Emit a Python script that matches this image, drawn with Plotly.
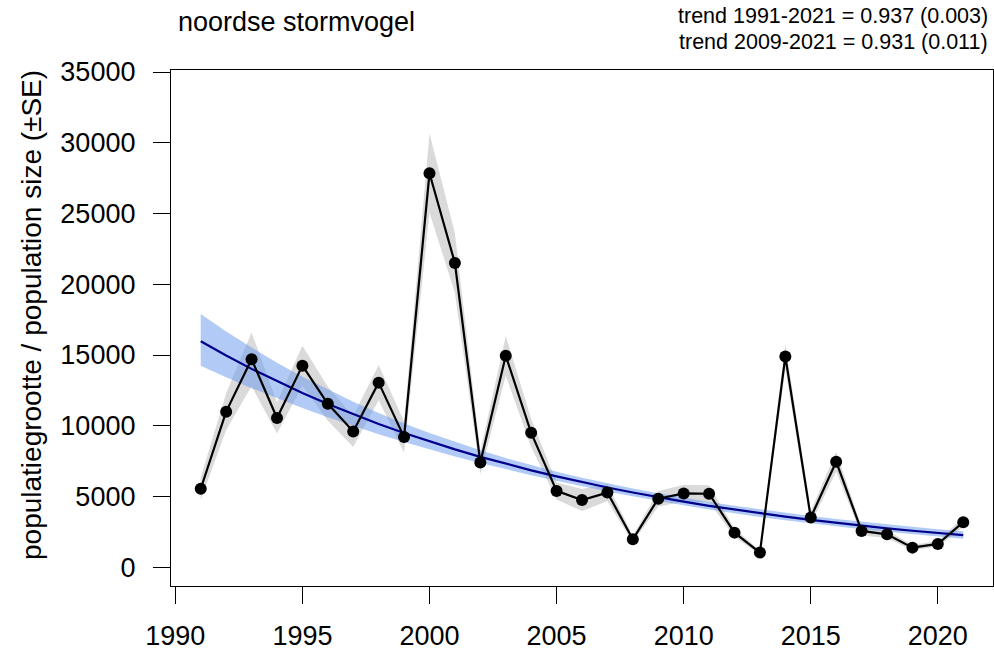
import plotly.graph_objects as go

# Breeding population of the northern fulmar, yearly index with standard error
years = list(range(1991, 2022))
population = [5550, 11000, 14700, 10550, 14250, 11550, 9600, 13050, 9200, 27850,
              21500, 7400, 14950, 9500, 5400, 4750, 5280, 1980, 4850, 5220,
              5200, 2450, 1040, 14900, 3520, 7460, 2570, 2330, 1390, 1650, 3190]
std_err = [800, 1300, 1900, 1100, 1400, 1200, 1100, 1250, 1100, 2800,
           2100, 800, 1400, 1000, 600, 780, 600, 250, 550, 590,
           590, 300, 150, 900, 450, 700, 300, 280, 180, 200, 350]

# Log-linear trend (0.937 per year) with its confidence band
trend_fit = [15970, 14964, 14021, 13138, 12310, 11535, 10808, 10127, 9489, 8891,
             8331, 7806, 7314, 6854, 6422, 6017, 5638, 5283, 4950, 4638,
             4346, 4072, 3816, 3575, 3350, 3139, 2941, 2756, 2582, 2420, 2267]
trend_hi = [17899, 16670, 15527, 14462, 13470, 12558, 11696, 10905, 10167, 9488,
            8855, 8264, 7720, 7220, 6751, 6326, 5927, 5565, 5225, 4910,
            4619, 4346, 4088, 3850, 3625, 3417, 3218, 3034, 2859, 2696, 2541]
trend_lo = [14250, 13432, 12661, 11936, 11250, 10595, 9987, 9405, 8856, 8332,
            7838, 7374, 6929, 6507, 6109, 5724, 5363, 5015, 4690, 4381,
            4089, 3816, 3561, 3320, 3095, 2883, 2688, 2504, 2332, 2172, 2023]

x_ticks = [1990, 1995, 2000, 2005, 2010, 2015, 2020]
y_ticks = [0, 5000, 10000, 15000, 20000, 25000, 30000, 35000]

title_text = "noordse stormvogel"
trend_lines = ["trend 1991-2021 = 0.937 (0.003)", "trend 2009-2021 = 0.931 (0.011)"]
y_label = "populatiegrootte / population size (±SE)"

FONT = "Liberation Sans, Arial, Helvetica, sans-serif"

se_hi = [p + s for p, s in zip(population, std_err)]
se_lo = [p - s for p, s in zip(population, std_err)]

fig = go.Figure()

# grey ±SE envelope around the yearly values
fig.add_trace(go.Scatter(
    x=years + years[::-1], y=se_hi + se_lo[::-1],
    fill="toself", fillcolor="rgb(218,218,218)",
    line=dict(width=0), mode="lines", hoverinfo="skip", showlegend=False))

# blue confidence band of the trend
fig.add_trace(go.Scatter(
    x=years + years[::-1], y=trend_hi + trend_lo[::-1],
    fill="toself", fillcolor="rgba(100,149,237,0.5)",
    line=dict(width=0), mode="lines", hoverinfo="skip", showlegend=False))

# trend line
fig.add_trace(go.Scatter(
    x=years, y=trend_fit, mode="lines",
    line=dict(color="#00008B", width=2.2), showlegend=False))

# yearly population values
fig.add_trace(go.Scatter(
    x=years, y=population, mode="lines+markers",
    line=dict(color="black", width=2.2),
    marker=dict(color="black", size=12),
    showlegend=False))

W, H = 994, 652
L, R, T, B = 171, 1, 70, 66
plot_w = W - L - R
plot_h = H - T - B

fig.update_layout(
    width=W, height=H,
    margin=dict(l=L, r=R, t=T, b=B),
    paper_bgcolor="white", plot_bgcolor="white",
    font=dict(family=FONT, color="black"),
    xaxis=dict(
        range=[1989.83, 2022.17], tickvals=x_ticks, tickformat="d",
        ticks="outside", ticklen=17, tickwidth=1.3, tickcolor="black",
        ticklabelstandoff=8, automargin=False,
        showline=True, linecolor="black", linewidth=1.3, mirror=True,
        showgrid=False, zeroline=False,
        tickfont=dict(size=27, family=FONT, color="black")),
    yaxis=dict(
        range=[-1321, 35141], tickvals=y_ticks, tickformat="d",
        ticks="outside", ticklen=17, tickwidth=1.3, tickcolor="black",
        ticklabelstandoff=12, automargin=False,
        showline=True, linecolor="black", linewidth=1.3, mirror=True,
        showgrid=False, zeroline=False,
        tickfont=dict(size=27, family=FONT, color="black")),
    annotations=[
        dict(text=title_text, xref="paper", yref="paper",
             x=(176 - L) / plot_w, y=1 + (T - 22) / plot_h,
             xanchor="left", yanchor="middle", showarrow=False,
             font=dict(size=27, family=FONT, color="black")),
        dict(text=trend_lines[0], xref="paper", yref="paper",
             x=(990 - L) / plot_w, y=1 + (T - 16) / plot_h,
             xanchor="right", yanchor="middle", showarrow=False,
             font=dict(size=21.5, family=FONT, color="black")),
        dict(text=trend_lines[1], xref="paper", yref="paper",
             x=(990 - L) / plot_w, y=1 + (T - 42) / plot_h,
             xanchor="right", yanchor="middle", showarrow=False,
             font=dict(size=21.5, family=FONT, color="black")),
        dict(text=y_label, xref="paper", yref="paper",
             x=(31 - L) / plot_w, y=((H - B) - 315) / plot_h,
             xanchor="center", yanchor="middle", textangle=-90, showarrow=False,
             font=dict(size=28, family=FONT, color="black")),
    ],
)

fig.write_html("out.html")
